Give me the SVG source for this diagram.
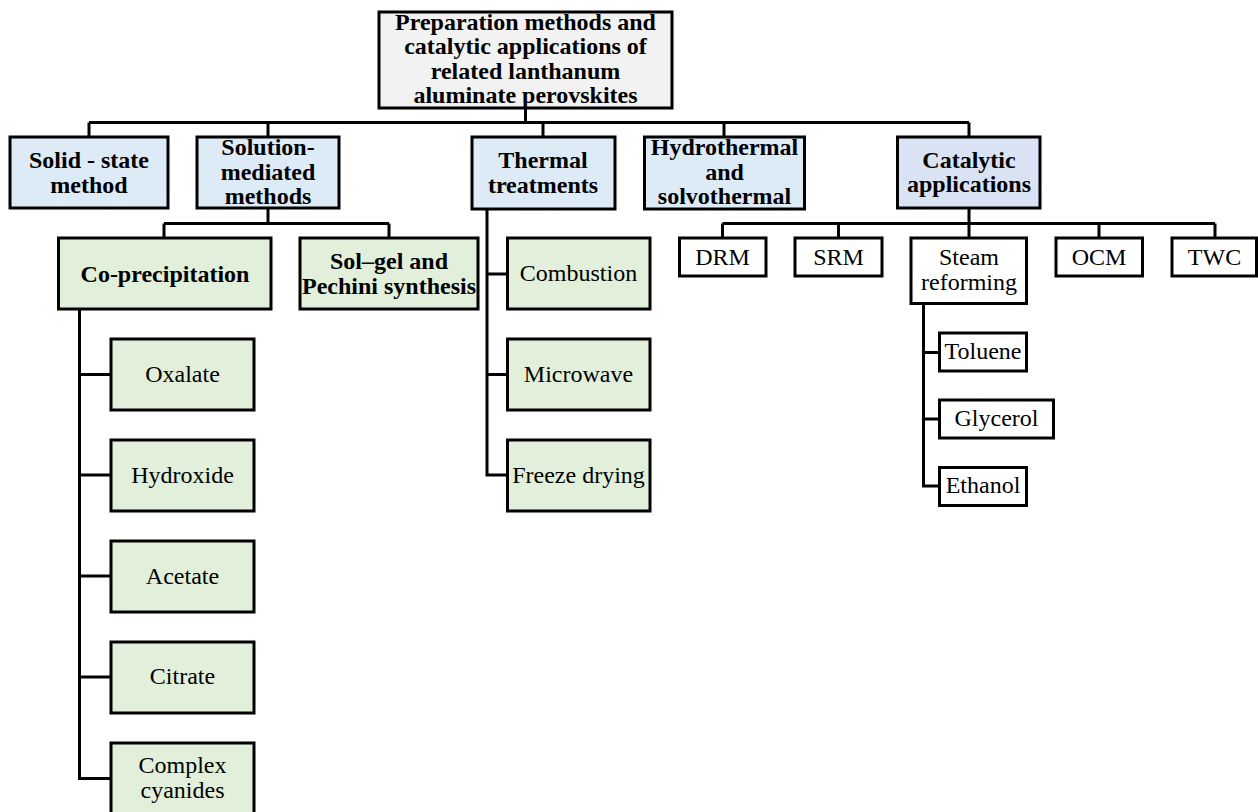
<svg xmlns="http://www.w3.org/2000/svg" width="1258" height="812" viewBox="0 0 1258 812">
<style>
.b{stroke:#000;stroke-width:3}
.root{fill:#f2f2f2}
.blue{fill:#ddebf7}
.cat{fill:#dae3f3}
.green{fill:#e2efda}
.white{fill:#fff}
text{font-family:"Liberation Serif","Times New Roman",serif;font-size:24px;fill:#000;text-anchor:middle}
.bold{font-weight:bold}
.c{fill:none;stroke:#000;stroke-width:3}
</style>
<rect width="1258" height="812" fill="#fff"/>
<g id="connectors">
<path class="c" d="M525.5 108 V122.5 M89 122.5 H969 M89 122.5 V137 M268 122.5 V137 M543 122.5 V137 M724 122.5 V137 M969 122.5 V137"/>
<path class="c" d="M268 208 V223.5 M164 223.5 H389 M164 223.5 V238 M389 223.5 V238"/>
<path class="c" d="M79.5 309 V778.5 H111 M79.5 374.5 H111 M79.5 475 H111 M79.5 576 H111 M79.5 677 H111"/>
<path class="c" d="M487 209 V475 H507 M487 274 H507 M487 374.5 H507"/>
<path class="c" d="M969 208 V238 M722.5 223.5 H1215 M722.5 223.5 V238 M838.5 223.5 V238 M1099 223.5 V238 M1215 223.5 V238"/>
<path class="c" d="M923.5 303 V486 H939 M923.5 352.5 H939 M923.5 419 H939"/>
</g>
<g id="root"><rect class="b root" x="379" y="12" width="293" height="96"/>
<text class="bold" x="525.5" y="29.5">Preparation methods and</text>
<text class="bold" x="525.5" y="54">catalytic applications of</text>
<text class="bold" x="525.5" y="78.5">related lanthanum</text>
<text class="bold" x="525.5" y="103">aluminate perovskites</text></g>
<g id="solid-state"><rect class="b blue" x="10" y="137" width="158" height="71"/>
<text class="bold" x="89" y="168">Solid - state</text>
<text class="bold" x="89" y="193">method</text></g>
<g id="solution"><rect class="b blue" x="197" y="137" width="142" height="71"/>
<text class="bold" x="268" y="155">Solution-</text>
<text class="bold" x="268" y="180">mediated</text>
<text class="bold" x="268" y="204">methods</text></g>
<g id="thermal"><rect class="b blue" x="472" y="137" width="143" height="72"/>
<text class="bold" x="543" y="168">Thermal</text>
<text class="bold" x="543" y="193">treatments</text></g>
<g id="hydrothermal"><rect class="b blue" x="644.5" y="137" width="160" height="72"/>
<text class="bold" x="724.5" y="155">Hydrothermal</text>
<text class="bold" x="724.5" y="180">and</text>
<text class="bold" x="724.5" y="204">solvothermal</text></g>
<g id="catalytic"><rect class="b cat" x="897.5" y="137" width="142.5" height="71"/>
<text class="bold" x="969" y="168">Catalytic</text>
<text class="bold" x="969" y="192">applications</text></g>
<g id="coprecipitation"><rect class="b green" x="58.5" y="238" width="212.5" height="71"/>
<text class="bold" x="165" y="282">Co-precipitation</text></g>
<g id="solgel"><rect class="b green" x="300" y="238" width="178" height="71"/>
<text class="bold" x="389" y="269">Sol–gel and</text>
<text class="bold" x="389" y="294">Pechini synthesis</text></g>
<g id="oxalate"><rect class="b green" x="111" y="339" width="143" height="71"/><text x="182.5" y="382">Oxalate</text></g>
<g id="hydroxide"><rect class="b green" x="111" y="440" width="143" height="71"/><text x="182.5" y="482.5">Hydroxide</text></g>
<g id="acetate"><rect class="b green" x="111" y="541" width="143" height="71"/><text x="182.5" y="583.5">Acetate</text></g>
<g id="citrate"><rect class="b green" x="111" y="642" width="143" height="71"/><text x="182.5" y="684">Citrate</text></g>
<g id="complex-cyanides"><rect class="b green" x="111" y="743" width="143" height="71"/><text x="182.5" y="773">Complex</text><text x="182.5" y="798">cyanides</text></g>
<g id="combustion"><rect class="b green" x="507.5" y="238" width="142.5" height="71"/><text x="578.5" y="281">Combustion</text></g>
<g id="microwave"><rect class="b green" x="507.5" y="339" width="142.5" height="71"/><text x="578.5" y="382">Microwave</text></g>
<g id="freeze-drying"><rect class="b green" x="507.5" y="440" width="142.5" height="71"/><text x="578.5" y="482.5">Freeze drying</text></g>
<g id="drm"><rect class="b white" x="679.5" y="238" width="86.5" height="38"/><text x="722.5" y="264.5">DRM</text></g>
<g id="srm"><rect class="b white" x="795" y="238" width="87" height="38"/><text x="838.5" y="264.5">SRM</text></g>
<g id="steam-reforming"><rect class="b white" x="911" y="238" width="115.5" height="65.5"/><text x="969" y="265">Steam</text><text x="969" y="290">reforming</text></g>
<g id="ocm"><rect class="b white" x="1056" y="238" width="86.5" height="38"/><text x="1099" y="264.5">OCM</text></g>
<g id="twc"><rect class="b white" x="1172" y="238" width="84.5" height="38"/><text x="1214.5" y="264.5">TWC</text></g>
<g id="toluene"><rect class="b white" x="939.5" y="333" width="87" height="38"/><text x="983" y="358.5">Toluene</text></g>
<g id="glycerol"><rect class="b white" x="939.5" y="400" width="114" height="38"/><text x="996.5" y="426">Glycerol</text></g>
<g id="ethanol"><rect class="b white" x="939.5" y="467.5" width="87" height="38"/><text x="983" y="493">Ethanol</text></g>
</svg>
